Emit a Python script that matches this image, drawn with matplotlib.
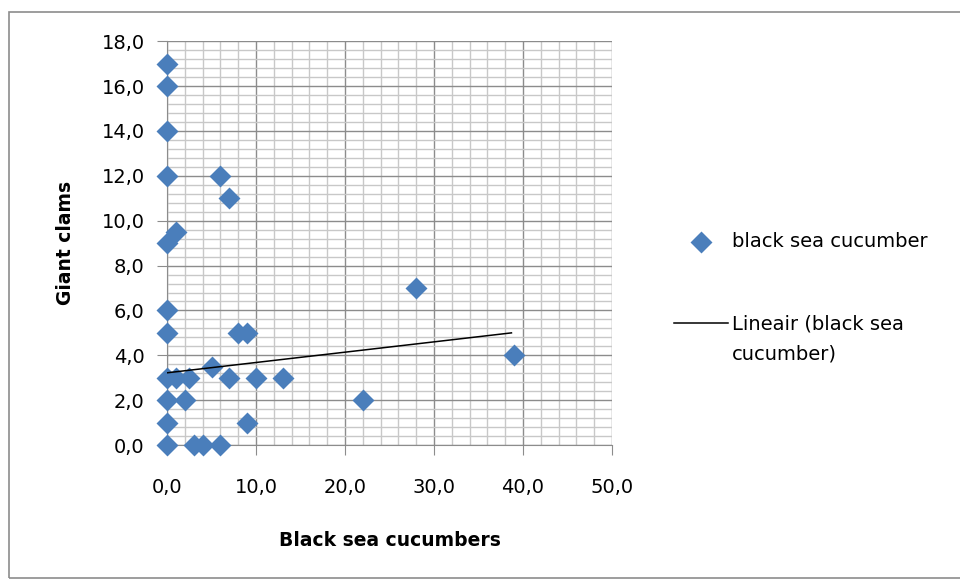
import numpy as np
import matplotlib.pyplot as plt
from matplotlib.ticker import MultipleLocator, FuncFormatter
from matplotlib.patches import Rectangle

plt.rcParams['font.family'] = ['DejaVu Sans']

# data
black_sea_cucumber = [0, 0, 0, 0, 6, 7, 1, 0, 0, 0, 8, 9, 5, 0, 1, 2.5, 7, 10, 13,
                      0, 2, 22, 0, 9, 0, 3, 4, 6, 28, 39]
giant_clams = [17, 16, 14, 12, 12, 11, 9.5, 9, 6, 5, 5, 5, 3.5, 3, 3, 3, 3, 3, 3,
               2, 2, 2, 1, 1, 0, 0, 0, 0, 7, 4]

# linear trend line as shown in the chart (start and end)
trend_x = [0, 38.7]
trend_y = [3.22, 5.0]

fig = plt.figure(figsize=(9.6, 5.81), dpi=100)
ax = fig.add_axes([0.174, 0.234, 0.4635, 0.695])

ax.scatter(black_sea_cucumber, giant_clams, marker='D', s=125, color='#4a7ebb',
           zorder=3, label='black sea cucumber', linewidths=0, clip_on=False)
ax.plot(trend_x, trend_y, color='black', lw=1.1, zorder=4,
        label='Lineair (black sea\ncucumber)')

ax.set_xlim(0, 50)
ax.set_ylim(0, 18)
ax.xaxis.set_major_locator(MultipleLocator(10))
ax.xaxis.set_minor_locator(MultipleLocator(2))
ax.yaxis.set_major_locator(MultipleLocator(2))
ax.yaxis.set_minor_locator(MultipleLocator(0.4))
fmt = FuncFormatter(lambda v, p: f'{v:.1f}'.replace('.', ','))
ax.xaxis.set_major_formatter(fmt)
ax.yaxis.set_major_formatter(fmt)

ax.grid(which='major', color='#8c8c8c', lw=1.0)
ax.grid(which='minor', color='#c8c8c8', lw=1.0)
ax.set_axisbelow(True)
for s in ax.spines.values():
    s.set_color('#8c8c8c')
ax.spines['top'].set_visible(False)
ax.spines['right'].set_visible(False)
ax.tick_params(which='major', length=7, color='#8c8c8c', labelsize=14)
ax.tick_params(axis='y', pad=9)
ax.tick_params(axis='x', pad=17)
ax.tick_params(which='minor', length=0)

ax.set_xlabel('Black sea cucumbers', fontsize=13.5, fontweight='bold', labelpad=24)
ax.set_ylabel('Giant clams', fontsize=13.5, fontweight='bold', labelpad=19)

leg = ax.legend(loc='upper left', bbox_to_anchor=(1.1, 0.57), frameon=False,
                fontsize=14, labelspacing=3.25, handlelength=2.8, handletextpad=0.2)
for t in leg.get_texts():
    t.set_linespacing(1.75)
# put the trend line next to the first text line
trend_handle = leg.legend_handles[1]
yd = trend_handle.get_ydata()
trend_handle.set_ydata([v + 12 for v in yd])

fig.patches.append(Rectangle((0.009, 0.005), 1.2, 0.975, transform=fig.transFigure,
                             fill=False, edgecolor='#8c8c8c', lw=1.2))

fig.savefig('out.png', dpi=100)
